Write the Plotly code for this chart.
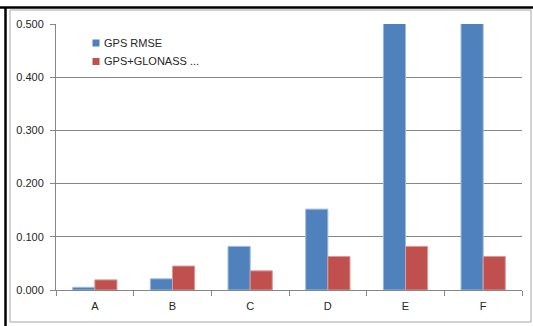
import plotly.graph_objects as go

# Positioning error per test site
sites = ["A", "B", "C", "D", "E", "F"]
gps_rmse = [0.005, 0.021, 0.082, 0.152, 0.612, 0.578]
gps_glonass = [0.019, 0.045, 0.036, 0.063, 0.082, 0.063]
series_names = ["GPS RMSE", "GPS+GLONASS ..."]
series_colors = ["#4F81BD", "#C0504D"]
edge_colors = ["#9DB9DC", "#DA9A98"]
y_ticks = [0.0, 0.1, 0.2, 0.3, 0.4, 0.5]
y_tick_text = ["0.000", "0.100", "0.200", "0.300", "0.400", "0.500"]

W, H = 533, 326
L, R, T, B = 56, 11, 24, 36
pw, ph = W - L - R, H - T - B
FONT = "Liberation Sans, Arial, sans-serif"
TEXT = "#262626"


def px(x):
    return (x - L) / pw


def py(y):
    return (H - B - y) / ph


fig = go.Figure()
for vals, name, col, edge in zip([gps_rmse, gps_glonass], series_names,
                                 series_colors, edge_colors):
    fig.add_trace(go.Bar(
        x=sites, y=vals, name=name, showlegend=False,
        marker=dict(color=col, line=dict(color=edge, width=1)),
    ))

shapes = [
    # chart-area border
    dict(type="rect", xref="paper", yref="paper",
         x0=px(10), x1=px(531), y0=py(322), y1=py(10),
         line=dict(color="#A6A6A6", width=1), layer="below"),
    # heavy frame along top and left
    dict(type="line", xref="paper", yref="paper",
         x0=px(0), x1=px(533), y0=py(7.5), y1=py(7.5),
         line=dict(color="#000000", width=2.5)),
    dict(type="line", xref="paper", yref="paper",
         x0=px(5.5), x1=px(5.5), y0=py(7), y1=py(326),
         line=dict(color="#000000", width=2.5)),
]

# compact legend: small swatch followed closely by the series name
annotations = []
for i, (name, col) in enumerate(zip(series_names, series_colors)):
    cy = 43 + i * 18.5
    shapes.append(dict(type="rect", xref="paper", yref="paper",
                       x0=px(92.5), x1=px(99.5), y0=py(cy + 3.5), y1=py(cy - 3.5),
                       fillcolor=col, line=dict(width=0)))
    annotations.append(dict(xref="paper", yref="paper", x=px(101.5), y=py(cy),
                            xanchor="left", yanchor="middle", text=name,
                            showarrow=False,
                            font=dict(family=FONT, size=11, color=TEXT)))

fig.update_layout(
    width=W, height=H,
    margin=dict(l=L, r=R, t=T, b=B),
    paper_bgcolor="white", plot_bgcolor="white",
    barmode="group", bargap=0.43, bargroupgap=0,
    font=dict(family=FONT, size=11, color=TEXT),
    showlegend=False,
    shapes=shapes,
    annotations=annotations,
)
fig.update_xaxes(
    showline=True, linecolor="#868686", linewidth=1,
    ticks="outside", ticklen=5, tickcolor="#868686",
    tickson="boundaries", showgrid=False, fixedrange=True,
    ticklabelstandoff=6,
)
fig.update_yaxes(
    range=[0, 0.5], tickvals=y_ticks, ticktext=y_tick_text,
    showline=True, linecolor="#868686", linewidth=1,
    ticks="outside", ticklen=5, tickcolor="#868686",
    showgrid=True, gridcolor="#868686", gridwidth=1,
    zeroline=False, fixedrange=True,
    ticklabelstandoff=4,
)

fig.write_html("out.html")
